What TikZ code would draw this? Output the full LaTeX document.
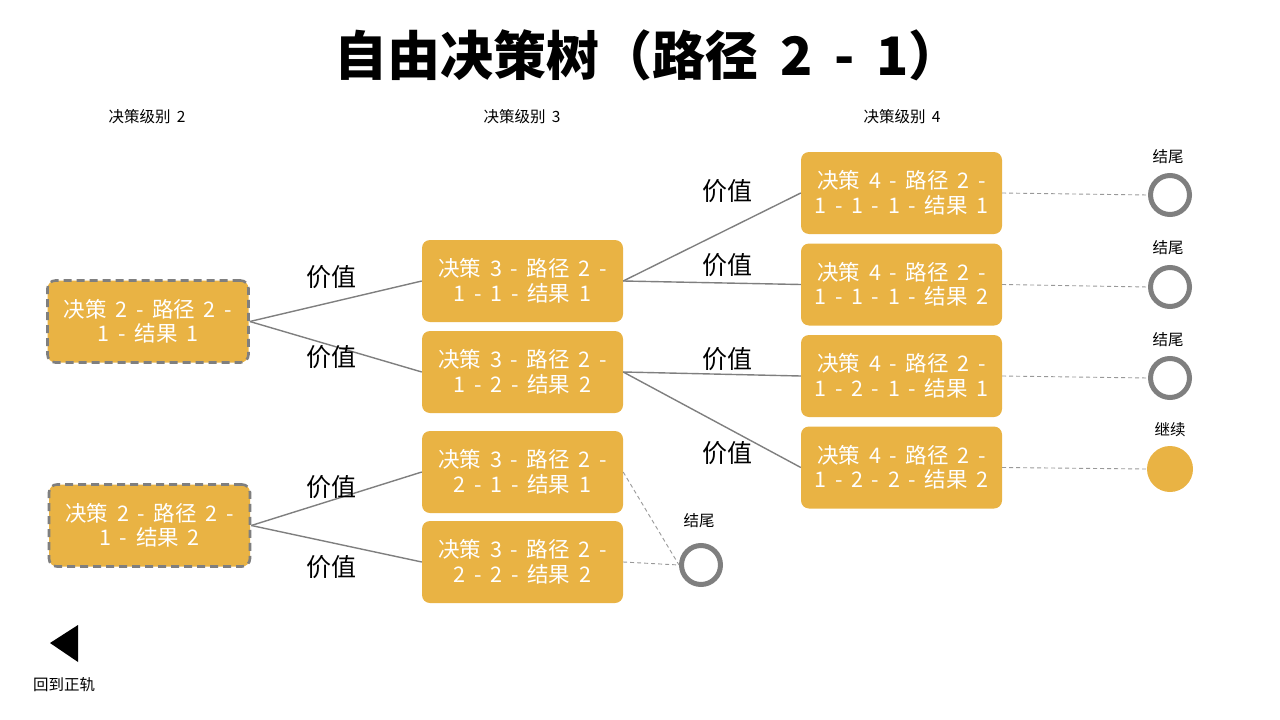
\documentclass[tikz,border=0pt]{standalone}
\usepackage{fontspec}
\setmainfont{Noto Sans CJK SC}
\newfontfamily\boxfont{Noto Sans CJK SC}[WordSpace=2.2]
\newfontfamily\titlefont{Noto Sans CJK SC}[WordSpace=1.8]
\newfontfamily\smallfont{Noto Sans CJK SC}[WordSpace=1.8]
\begin{document}
\begin{tikzpicture}[x=1pt,y=-1pt,
  box/.style={fill=boxc, rounded corners=8pt, minimum width=201pt, minimum height=82pt, inner sep=0pt, text=white, align=center, font=\boxfont\fontsize{21.5}{24.5}\selectfont},
  dbox/.style={box, draw=grayc, line width=2.6pt, dash pattern=on 8pt off 5pt},
  conn/.style={draw=grayc, line width=1.4pt},
  dconn/.style={draw=grayc!80, line width=0.9pt, dash pattern=on 4pt off 3pt},
  endc/.style={circle, draw=grayc, line width=5pt, fill=white, minimum size=39pt, inner sep=0pt},
  contc/.style={circle, fill=boxc, minimum size=46pt, inner sep=0pt},
  val/.style={font=\fontsize{25}{27}\selectfont},
  small/.style={font=\smallfont\fontsize{15.5}{18}\selectfont}
]
\definecolor{boxc}{HTML}{E9B344}
\definecolor{grayc}{HTML}{7F7F7F}
\useasboundingbox (0,0) rectangle (1280,720);
\node[font=\titlefont\bfseries\fontsize{53}{56}\selectfont, anchor=west, inner sep=0pt] (title) at (334,55) {自由决策树（路径 2 - 1）};
\node[small] (lv2) at (147,117) {决策级别 2};
\node[small] (lv3) at (522,117) {决策级别 3};
\node[small] (lv4) at (902,117) {决策级别 4};

\node[dbox] (a) at (148,321.5) {决策 2 - 路径 2 -\\1 - 结果 1};
\node[dbox] (b) at (149.5,525.5) {决策 2 - 路径 2 -\\1 - 结果 2};

\node[box] (c) at (522.5,281) {决策 3 - 路径 2 -\\1 - 1 - 结果 1};
\node[box] (d) at (522.5,372) {决策 3 - 路径 2 -\\1 - 2 - 结果 2};
\node[box] (e) at (522.5,472) {决策 3 - 路径 2 -\\2 - 1 - 结果 1};
\node[box] (f) at (522.5,562) {决策 3 - 路径 2 -\\2 - 2 - 结果 2};

\node[box] (g) at (901.5,193) {决策 4 - 路径 2 -\\1 - 1 - 1 - 结果 1};
\node[box] (h) at (901.5,284.5) {决策 4 - 路径 2 -\\1 - 1 - 1 - 结果 2};
\node[box] (i) at (901.5,376) {决策 4 - 路径 2 -\\1 - 2 - 1 - 结果 1};
\node[box] (j) at (901.5,467.5) {决策 4 - 路径 2 -\\1 - 2 - 2 - 结果 2};

\node[endc] (e1) at (1170,195) {};
\node[endc] (e2) at (1170,287) {};
\node[endc] (e3) at (1170,378) {};
\node[contc] (e4) at (1170,469) {};
\node[endc] (e5) at (701,565) {};

\node[small] (t1) at (1168,157) {结尾};
\node[small] (t2) at (1168,248) {结尾};
\node[small] (t3) at (1168,340) {结尾};
\node[small] (t4) at (1170,430) {继续};
\node[small] (t5) at (699,521) {结尾};

\draw[conn] (a.east) -- (c.west);
\draw[conn] (a.east) -- (d.west);
\draw[conn] (b.east) -- (e.west);
\draw[conn] (b.east) -- (f.west);
\draw[conn] (c.east) -- (g.west);
\draw[conn] (c.east) -- (h.west);
\draw[conn] (d.east) -- (i.west);
\draw[conn] (d.east) -- (j.west);

\draw[dconn] (g.east) -- (e1.west);
\draw[dconn] (h.east) -- (e2.west);
\draw[dconn] (i.east) -- (e3.west);
\draw[dconn] (j.east) -- (e4.west);
\draw[dconn] (e.east) -- (e5.west);
\draw[dconn] (f.east) -- (e5.west);

\node[val] (v1) at (331,277) {价值};
\node[val] (v2) at (331,357) {价值};
\node[val] (v3) at (331,487) {价值};
\node[val] (v4) at (331,567) {价值};
\node[val] (v5) at (727,191) {价值};
\node[val] (v6) at (727,265) {价值};
\node[val] (v7) at (727,359) {价值};
\node[val] (v8) at (727,453) {价值};

\fill (50,643) -- (78,625) -- (78,662) -- cycle;
\node[small] (back) at (64,685) {回到正轨};
\end{tikzpicture}
\end{document}
